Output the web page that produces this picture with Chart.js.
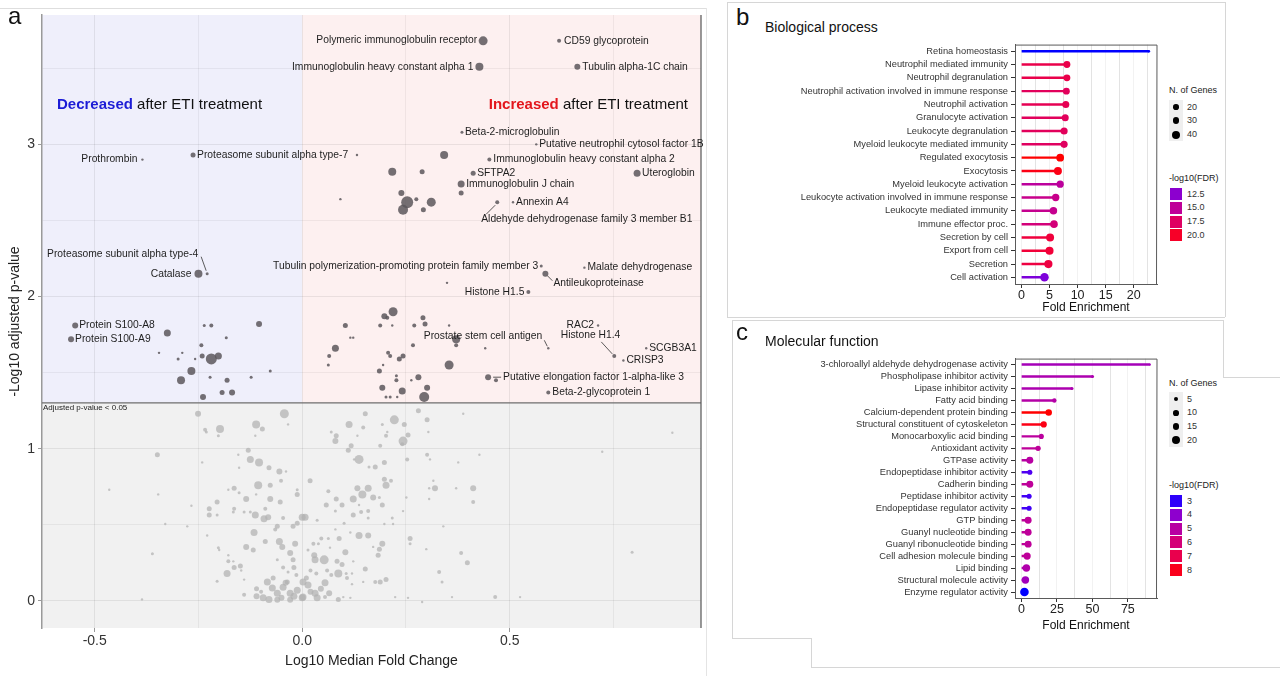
<!DOCTYPE html>
<html><head><meta charset="utf-8">
<script src="https://cdn.jsdelivr.net/npm/chart.js@4.4.1/dist/chart.umd.min.js"></script>
<style>
html,body{margin:0;padding:0;background:#fff;}
#wrap{position:relative;width:1280px;height:676px;overflow:hidden;background:#fff;font-family:"Liberation Sans",Arial,sans-serif;color:#111;}
canvas{position:absolute;}
.t{position:absolute;white-space:nowrap;}
.ln{position:absolute;background:#d6d6d6;}
</style></head><body><div id="wrap">
<canvas id="volcano" width="712" height="676" style="left:0px;top:0px"></canvas>
<canvas id="bp" width="440" height="290" style="left:727px;top:36px"></canvas>
<canvas id="mf" width="440" height="290" style="left:727px;top:350px"></canvas>
</div>
<script>
// ---------------- DATA ----------------
// Panel a: volcano plot  [log10 median fold change, -log10 adjusted p, point size]
const significanceLevel = 0.05;
const xMajorTicks = [-0.5, 0.0, 0.5];
const xMinorTicks = [-0.25, 0.25, 0.75];
const yMajorTicks = [0, 1, 2, 3];
const yMinorTicks = [0.5, 1.5, 2.5, 3.5];

const labeledProteins = [
 ["Polymeric immunoglobulin receptor",0.436,3.68,4.5],
 ["CD59 glycoprotein",0.619,3.68,2],
 ["Immunoglobulin heavy constant alpha 1",0.427,3.51,4],
 ["Tubulin alpha-1C chain",0.663,3.51,3],
 ["Beta-2-microglobulin",0.385,3.08,1.5],
 ["Putative neutrophil cytosol factor 1B",0.564,3.00,1.2],
 ["Proteasome subunit alpha type-7",-0.263,2.93,2.5],
 ["Prothrombin",-0.385,2.90,1.2],
 ["Immunoglobulin heavy constant alpha 2",0.451,2.90,2],
 ["SFTPA2",0.412,2.81,2.5],
 ["Uteroglobin",0.807,2.81,3.5],
 ["Immunoglobulin J chain",0.383,2.74,3.5],
 ["Annexin A4",0.508,2.62,1.2],
 ["Aldehyde dehydrogenase family 3 member B1",0.470,2.62,2],
 ["Proteasome subunit alpha type-4",-0.229,2.15,1.5],
 ["Catalase",-0.250,2.15,4],
 ["Tubulin polymerization-promoting protein family member 3",0.576,2.20,1.5],
 ["Antileukoproteinase",0.586,2.15,3],
 ["Malate dehydrogenase",0.680,2.19,1.2],
 ["Histone H1.5",0.545,2.03,2],
 ["Protein S100-A8",-0.547,1.81,3],
 ["Protein S100-A9",-0.557,1.72,3],
 ["Prostate stem cell antigen",0.593,1.66,1.2],
 ["RAC2",0.713,1.81,1.2],
 ["Histone H1.4",0.752,1.61,2],
 ["SCGB3A1",0.829,1.66,1.2],
 ["CRISP3",0.774,1.58,1.2],
 ["Putative elongation factor 1-alpha-like 3",0.448,1.47,3],
 ["Beta-2-glycoprotein 1",0.593,1.37,2]
];

const significantUnlabeled = [
 [0.342,2.93,4],[0.132,2.93,1.2],[0.217,2.82,4],[0.289,2.82,2.5],[0.092,2.64,1.2],[0.239,2.68,3],[0.253,2.62,6],[0.275,2.64,2],[0.311,2.62,4.5],[0.243,2.57,5],[0.292,2.57,2.5],[0.383,2.68,2.5],[0.349,2.09,1.2],
 [-0.325,1.76,3.5],[-0.236,1.81,1.5],[-0.219,1.81,2],[-0.104,1.82,3],[-0.183,1.73,1.5],[-0.243,1.68,2],[-0.345,1.63,1.2],[-0.289,1.63,1.2],[-0.299,1.59,1.5],[-0.258,1.59,1.2],[-0.241,1.61,2.5],[-0.219,1.59,5.5],[-0.202,1.61,3.5],[-0.267,1.51,4],[-0.292,1.45,4],[-0.222,1.47,1.5],[-0.181,1.45,2.5],[-0.123,1.47,1.5],[-0.077,1.51,1.5],[-0.193,1.37,2.5],[-0.169,1.37,3],[-0.239,1.34,3],
 [0.219,1.90,4.5],[0.198,1.87,3],[0.205,1.86,2],[0.104,1.81,2.5],[0.188,1.81,2],[0.217,1.81,1.2],[0.270,1.81,2],[0.291,1.86,2.5],[0.296,1.82,2.5],[0.354,1.81,1.2],[0.116,1.73,1.2],[0.123,1.73,1.2],[0.080,1.66,3.5],[0.065,1.61,2],[0.063,1.55,1.5],[0.267,1.68,2],[0.207,1.63,2],[0.212,1.61,2],[0.234,1.59,2.5],[0.243,1.61,2.5],[0.195,1.55,1.2],[0.186,1.51,2.5],[0.227,1.48,1.5],[0.227,1.45,2],[0.263,1.45,1.2],[0.280,1.47,3],[0.193,1.40,3],[0.241,1.38,3.5],[0.301,1.40,3],[0.294,1.34,5],[0.202,1.34,1.5],[0.212,1.34,1.5],[0.229,1.34,1.2],[0.371,1.72,4],[0.371,1.68,2],[0.354,1.55,4.5],[0.441,1.66,1.2],[0.467,1.45,2]
];

const nonsignificant = [
 [-0.251,1.23,3],[-0.043,1.23,4.5],[-0.034,1.16,1.2],[-0.198,1.13,4],[-0.234,1.125,2],[-0.231,1.11,1.5],[-0.202,1.085,1.5],[-0.111,1.16,4],[-0.096,1.13,2.5],[-0.113,1.085,1.2],
 [-0.349,0.96,2.5],[-0.241,0.91,1.2],[-0.154,0.96,1.2],[-0.152,0.875,1.2],[-0.130,0.99,2.5],[-0.125,0.93,3.5],[-0.104,0.91,4],[-0.080,0.875,2.5],[-0.055,0.85,3],[-0.039,0.85,1.2],
 [-0.051,0.79,2],[-0.106,0.76,4],[-0.077,0.76,2.5],[-0.012,0.70,2.5],[-0.164,0.74,2.5],[-0.178,0.73,1.2],[-0.152,0.71,1.5],[-0.347,0.70,1.2],[-0.135,0.67,3],[-0.111,0.70,1.2],
 [-0.077,0.67,3],[-0.053,0.65,2.5],[-0.089,0.605,2],[-0.205,0.65,2.5],[-0.224,0.605,2.5],[-0.224,0.565,2.5],[-0.205,0.565,1.5],[-0.164,0.605,2],[-0.166,0.585,1.5],[-0.140,0.585,1.5],
 [-0.125,0.585,1.5],[-0.113,0.565,3.5],[-0.092,0.54,3.5],[-0.082,0.55,3],[-0.046,0.545,2],[-0.267,0.625,1.2],[-0.330,0.505,1.2],[-0.277,0.49,1.2],[-0.060,0.49,2.5],[-0.065,0.47,2],
 [-0.022,0.49,2.5],[-0.116,0.45,3.5],[-0.089,0.39,2.5],[-0.055,0.39,3.5],[-0.048,0.355,3],[-0.017,0.375,3],[-0.229,0.43,1.2],[-0.200,0.335,1.2],[-0.135,0.355,3],[-0.118,0.335,2.5],
 [-0.178,0.30,1.2],[-0.178,0.26,2],[-0.166,0.26,1.2],[-0.164,0.22,2.5],[-0.149,0.23,2.5],[-0.147,0.20,1.2],[-0.181,0.18,3.5],[-0.205,0.13,1.5],[-0.140,0.14,1.2],[-0.140,0.04,2],
 [-0.084,0.125,3.5],[-0.029,0.315,3],[-0.022,0.27,2.5],[-0.046,0.22,2],[-0.060,0.27,1.5],[-0.034,0.19,1.5],[-0.036,0.125,2.5],[-0.014,0.17,2],[-0.072,0.085,3.5],[-0.094,0.02,3.5],
 [-0.080,0.01,3.5],[-0.060,0.05,3.5],[-0.046,0.09,3.5],[-0.029,0.05,3.5],[-0.012,0.07,3.5],[0.000,0.02,3.5],[-0.099,0.06,2],[-0.060,0.007,3],[-0.029,0.007,3],[-0.361,0.31,1.5],
 [-0.012,0.51,2.5],[0.000,0.55,3.5],[-0.012,0.73,1.5],[-0.465,0.73,1.2],[-0.386,0.01,1.2],[-0.202,0.35,1.5],
 [-0.020,0.03,3.5],[0.020,0.06,3],[-0.050,0.02,3],[0.045,0.08,3],[-0.040,0.12,3],[0.010,0.15,2.5],[-0.070,0.15,2.5],[0.065,0.05,3],[-0.110,0.03,3],[-0.110,0.08,2.5],[0.020,0.20,2],[-0.020,0.22,2.5],
 [0.152,1.23,2.5],[0.222,1.19,4.5],[0.193,1.16,1.5],[0.246,1.16,2.5],[0.280,1.25,2.5],[0.301,1.19,2.5],[0.113,1.16,3.5],[0.147,1.14,2],[0.070,1.11,1.5],[0.082,1.085,2.5],
 [0.080,1.05,3],[0.133,1.085,1.2],[0.205,1.11,1.2],[0.202,1.085,2],[0.255,1.09,2.5],[0.243,1.05,4.5],[0.241,1.03,2],[0.188,1.02,2],[0.118,1.02,2.5],[0.111,0.99,2.5],
 [0.304,1.11,1.2],[0.137,0.93,4.5],[0.125,0.93,1.2],[0.198,0.91,2.5],[0.253,0.93,2],[0.301,0.96,2],[0.308,0.93,1.2],[0.376,0.91,1.2],[0.161,0.88,1.5],[0.176,0.88,2.5],
 [0.019,0.79,2.5],[0.063,0.72,2],[0.082,0.67,2.5],[0.133,0.74,3],[0.145,0.70,4],[0.123,0.67,3.5],[0.159,0.74,3.5],[0.171,0.68,3],[0.186,0.68,1.5],[0.198,0.80,2.5],
 [0.202,0.76,3.5],[0.214,0.79,2],[0.193,0.63,2.5],[0.137,0.63,1.2],[0.096,0.63,2.5],[0.058,0.63,2.5],[0.080,0.59,1.5],[0.142,0.585,2],[0.159,0.59,2],[0.159,0.545,1.5],
 [0.123,0.565,2.5],[0.251,0.68,1.2],[0.306,0.67,1.2],[0.316,0.79,1.2],[0.320,0.74,3],[0.306,0.74,1.2],[0.371,0.74,1.2],[0.243,0.59,1.2],[0.217,0.545,1.5],[0.198,0.505,1.2],
 [0.219,0.505,1.2],[0.340,0.49,1.2],[0.101,0.51,1.5],[0.080,0.47,1.2],[0.036,0.53,1.5],[0.007,0.55,3.5],[0.137,0.43,3.5],[0.159,0.43,3],[0.089,0.41,2.5],[0.116,0.45,1.2],
 [0.260,0.41,2.5],[0.260,0.375,1.5],[0.193,0.375,3],[0.186,0.34,2.5],[0.183,0.30,2.5],[0.171,0.355,1.2],[0.299,0.34,1.2],[0.104,0.32,3],[0.046,0.41,2],[0.063,0.41,1.5],
 [0.027,0.375,2],[0.039,0.375,1.5],[0.014,0.335,1.5],[0.067,0.35,1.2],[0.029,0.30,3],[0.053,0.27,4.5],[0.031,0.27,3.5],[0.084,0.26,2.5],[0.096,0.24,2.5],[0.123,0.26,1.2],
 [0.034,0.18,2],[0.060,0.20,2],[0.070,0.17,2],[0.087,0.18,4],[0.106,0.18,1.5],[0.120,0.18,1.2],[0.152,0.21,2.5],[0.108,0.15,2],[0.055,0.12,3.5],[0.120,0.11,1.2],
 [0.147,0.125,1.2],[0.176,0.125,2],[0.188,0.125,2.5],[0.202,0.14,2.5],[0.330,0.19,2],[0.337,0.125,1.5],[0.002,0.125,3.5],[0.014,0.105,3.5],[0.031,0.05,3.5],[0.002,0.025,3.5],
 [0.036,0.02,3.5],[0.055,0.025,2],[0.087,0.01,2.5],[0.099,0.025,1.2],[0.116,0.02,1.2],[0.224,0.025,1.2],[0.255,0.02,1.2],[0.289,-0.007,1.2],[0.361,0.025,1.2],
 [0.892,1.105,1.2],[0.723,0.98,1.2],[0.795,0.32,1.5],[0.465,0.025,2],[0.525,0.025,1.2],[0.412,0.74,3],[0.412,0.65,2],[0.388,1.23,1.2],[0.427,0.96,1.2],[0.383,0.315,2],[0.398,0.25,2.5]
];

// Panel b: Biological process
const bpTerms = ["Retina homeostasis","Neutrophil mediated immunity","Neutrophil degranulation","Neutrophil activation involved in immune response","Neutrophil activation","Granulocyte activation","Leukocyte degranulation","Myeloid leukocyte mediated immunity","Regulated exocytosis","Exocytosis","Myeloid leukocyte activation","Leukocyte activation involved in immune response","Leukocyte mediated immunity","Immune effector proc.","Secretion by cell","Export from cell","Secretion","Cell activation"];
const bpFoldEnrichment = [22.7,8.1,8.1,8.0,7.9,7.8,7.6,7.6,6.9,6.5,6.9,6.1,5.7,5.8,5.1,5.0,4.8,4.1];
const bpGenes = [4,30,30,30,31,31,32,32,38,40,33,34,35,36,40,41,42,46];
const bpLog10FDR = [10.4,18.6,18.6,17.8,18.2,17.8,17.8,17.6,21.0,20.6,14.8,15.6,15.4,16.4,19.2,19.4,19.0,12.0];
const bpXTicks = [0,5,10,15,20];
const bpGeneBreaks = [20,30,40];
const bpFdrBreaks = [12.5,15.0,17.5,20.0];

// Panel c: Molecular function
const mfTerms = ["3-chloroallyl aldehyde dehydrogenase activity","Phospholipase inhibitor activity","Lipase inhibitor activity","Fatty acid binding","Calcium-dependent protein binding","Structural constituent of cytoskeleton","Monocarboxylic acid binding","Antioxidant activity","GTPase activity","Endopeptidase inhibitor activity","Cadherin binding","Peptidase inhibitor activity","Endopeptidase regulator activity","GTP binding","Guanyl nucleotide binding","Guanyl ribonucleotide binding","Cell adhesion molecule binding","Lipid binding","Structural molecule activity","Enzyme regulator activity"];
const mfFoldEnrichment = [90.6,50.1,35.6,23.2,19.2,15.7,14.0,11.7,5.9,5.9,5.9,5.4,5.4,4.7,4.7,4.7,4.0,3.5,2.8,2.1];
const mfGenes = [1,3,3,6,13,12,8,9,15,8,15,8,8,15,15,15,16,17,17,23];
const mfLog10FDR = [4.5,4.7,4.7,4.9,8.3,8.1,5.1,5.2,5.0,3.2,5.2,3.1,3.1,5.2,5.2,5.2,5.2,4.8,4.4,2.9];
const mfXTicks = [0,25,50,75];
const mfGeneBreaks = [5,10,15,20];
const mfFdrBreaks = [3,4,5,6,7,8];

// ---------------- HELPERS ----------------
const FONT = '"Liberation Sans", Arial, sans-serif';
Chart.defaults.font.family = FONT;
const wrap = document.getElementById('wrap');

function txt(text, x, cy, fs, opts={}) {
  const d = document.createElement('div');
  d.className = 't';
  d.style.left = x + 'px';
  d.style.top = (cy - fs/2) + 'px';
  d.style.fontSize = fs + 'px';
  d.style.lineHeight = fs + 'px';
  d.style.color = opts.color || '#111';
  if (opts.right) d.style.transform = 'translateX(-100%)';
  d.innerHTML = text;
  wrap.appendChild(d);
  return d;
}
function line(x, y, w, h, c) {
  const d = document.createElement('div');
  d.className = 'ln';
  Object.assign(d.style, {left:x+'px', top:y+'px', width:w+'px', height:h+'px'});
  if (c) d.style.background = c;
  wrap.appendChild(d);
}

// Lab colour interpolation (blue -> red), like ggplot's gradient
const WN=[0.95047,1,1.08883];
function toLin(c){c/=255;return c<=0.04045?c/12.92:Math.pow((c+0.055)/1.055,2.4);}
function fromLin(c){c=c<=0.0031308?12.92*c:1.055*Math.pow(c,1/2.4)-0.055;return Math.round(255*Math.min(1,Math.max(0,c)));}
function rgb2lab(rgb){const [r,g,b]=rgb.map(toLin);const X=(0.4124*r+0.3576*g+0.1805*b)/WN[0],Y=(0.2126*r+0.7152*g+0.0722*b)/WN[1],Z=(0.0193*r+0.1192*g+0.9505*b)/WN[2];const f=t=>t>0.008856?Math.cbrt(t):7.787*t+16/116;const fx=f(X),fy=f(Y),fz=f(Z);return [116*fy-16,500*(fx-fy),200*(fy-fz)];}
function lab2rgb([L,a,b]){const fy=(L+16)/116,fx=fy+a/500,fz=fy-b/200;const fi=t=>{const t3=t*t*t;return t3>0.008856?t3:(t-16/116)/7.787;};const X=fi(fx)*WN[0],Y=fi(fy)*WN[1],Z=fi(fz)*WN[2];return [fromLin(3.2406*X-1.5372*Y-0.4986*Z),fromLin(-0.9689*X+1.8758*Y+0.0415*Z),fromLin(0.0557*X-0.2040*Y+1.0570*Z)];}
const LAB_LO = rgb2lab([0,0,255]), LAB_HI = rgb2lab([255,0,0]);
function fdrColour(v, dom) {
  const t = Math.max(0, Math.min(1, (v - dom[0]) / (dom[1] - dom[0])));
  const c = lab2rgb(LAB_LO.map((l,i)=>l + (LAB_HI[i]-l)*t));
  return `rgb(${c[0]},${c[1]},${c[2]})`;
}

// ---------------- PANEL A ----------------
const yThreshold = -Math.log10(significanceLevel);
const labelLayout = {
 "Polymeric immunoglobulin receptor": {dx:-6, dy:-1, align:'right'},
 "CD59 glycoprotein": {dx:5},
 "Immunoglobulin heavy constant alpha 1": {dx:-6, align:'right'},
 "Tubulin alpha-1C chain": {dx:5},
 "Beta-2-microglobulin": {dx:3},
 "Putative neutrophil cytosol factor 1B": {dx:3},
 "Proteasome subunit alpha type-7": {dx:4},
 "Prothrombin": {dx:-5, align:'right'},
 "Immunoglobulin heavy constant alpha 2": {dx:4},
 "SFTPA2": {dx:4},
 "Uteroglobin": {dx:5},
 "Immunoglobulin J chain": {dx:5},
 "Annexin A4": {dx:3},
 "Aldehyde dehydrogenase family 3 member B1": {dx:-16, dy:17, leader:[-2,3,-11,12]},
 "Proteasome subunit alpha type-4": {dx:-9, dy:-20, align:'right', leader:[-6,-17,-1,-3]},
 "Catalase": {dx:-7, align:'right'},
 "Tubulin polymerization-promoting protein family member 3": {dx:-3, align:'right'},
 "Antileukoproteinase": {dx:8, dy:9, leader:[2,2,7,7]},
 "Malate dehydrogenase": {dx:3},
 "Histone H1.5": {dx:-4, align:'right'},
 "Protein S100-A8": {dx:4},
 "Protein S100-A9": {dx:4},
 "Prostate stem cell antigen": {dx:-6, dy:-12, align:'right', leader:[-4,-8,-1,-2]},
 "RAC2": {dx:-4, align:'right'},
 "Histone H1.4": {dx:6, dy:-21, align:'right', leader:[-13,-14,-2,-2]},
 "SCGB3A1": {dx:3},
 "CRISP3": {dx:3},
 "Putative elongation factor 1-alpha-like 3": {dx:15, leader:[5,0,13,0]},
 "Beta-2-glycoprotein 1": {dx:4}
};

const volcanoDecor = {
  id: 'volcanoDecor',
  beforeDraw(chart) {
    const {ctx, chartArea:{left,right,top,bottom}, scales:{x,y}} = chart;
    const x0 = x.getPixelForValue(0), yT = y.getPixelForValue(yThreshold);
    ctx.save();
    ctx.fillStyle = '#efeffb'; ctx.fillRect(left, top, x0-left, yT-top);
    ctx.fillStyle = '#fdf0f0'; ctx.fillRect(x0, top, right-x0, yT-top);
    ctx.fillStyle = '#f1f1f1'; ctx.fillRect(left, yT, right-left, bottom-yT);
    ctx.restore();
  },
  afterDatasetsDraw(chart) {
    const {ctx, chartArea:{left,right,top,bottom}, scales:{x,y}} = chart;
    const yT = y.getPixelForValue(yThreshold);
    ctx.save();
    ctx.strokeStyle = '#6e6e6e'; ctx.lineWidth = 1.3;
    ctx.beginPath(); ctx.moveTo(left, yT); ctx.lineTo(right, yT); ctx.stroke();
    ctx.strokeStyle = '#555'; ctx.lineWidth = 1.2;
    ctx.beginPath(); ctx.moveTo(right, top); ctx.lineTo(right, bottom); ctx.stroke();
    ctx.fillStyle = '#222'; ctx.font = '8px ' + FONT; ctx.textBaseline = 'middle'; ctx.textAlign = 'left';
    ctx.fillText('Adjusted p-value < 0.05', left + 1, yT + 5);
    ctx.font = '10.3px ' + FONT; ctx.fillStyle = '#1e1e1e';
    ctx.strokeStyle = '#333'; ctx.lineWidth = 0.8;
    labeledProteins.forEach(p => {
      const L = labelLayout[p[0]] || {dx:4};
      const px = x.getPixelForValue(p[1]), py = y.getPixelForValue(p[2]);
      ctx.textAlign = L.align || 'left';
      ctx.fillText(p[0], px + L.dx, py + (L.dy || 0));
      if (L.leader) {
        ctx.beginPath(); ctx.moveTo(px + L.leader[0], py + L.leader[1]); ctx.lineTo(px + L.leader[2], py + L.leader[3]); ctx.stroke();
      }
    });
    ctx.restore();
  }
};

const toBubble = arr => arr.map(p => ({x:p[0], y:p[1], r:p[2]}));
new Chart(document.getElementById('volcano'), {
  type: 'bubble',
  data: { datasets: [
    { label:'Not significant', data: toBubble(nonsignificant), backgroundColor:'rgba(178,178,178,0.72)', borderWidth:0 },
    { label:'Significant', data: toBubble(significantUnlabeled.concat(labeledProteins.map(p=>[p[1],p[2],p[3]]))), backgroundColor:'rgba(92,87,92,0.85)', borderWidth:0 }
  ]},
  options: {
    responsive:false, animation:false, events:[],
    layout:{padding:{left:0,right:11,top:15,bottom:0}},
    plugins:{legend:{display:false}, tooltip:{enabled:false}},
    scales: {
      x: { type:'linear', min:-0.627, max:0.961,
        afterBuildTicks: s => { s.ticks = xMajorTicks.concat(xMinorTicks).sort((a,b)=>a-b).map(v=>({value:v})); },
        afterFit: s => { s.height = 48; },
        ticks:{ callback: v => xMajorTicks.includes(v) ? v.toFixed(1) : '', font:{size:14}, color:'#333', padding:1, maxRotation:0, autoSkip:false },
        grid:{ color: c => xMajorTicks.includes(c.tick && c.tick.value) ? 'rgba(0,0,0,0.075)' : 'rgba(0,0,0,0.05)', tickLength:4, tickColor: c => xMajorTicks.includes(c.tick && c.tick.value) ? '#999' : 'rgba(0,0,0,0)' },
        border:{ display:false },
        title:{ display:true, text:'Log10 Median Fold Change', font:{size:14}, color:'#222', padding:{top:0,bottom:6} }
      },
      y: { type:'linear', min:-0.178, max:3.85,
        afterBuildTicks: s => { s.ticks = yMajorTicks.concat(yMinorTicks).sort((a,b)=>a-b).map(v=>({value:v})); },
        afterFit: s => { s.width = 42; },
        ticks:{ callback: v => yMajorTicks.includes(v) ? String(v) : '', font:{size:14}, color:'#333', padding:3, autoSkip:false },
        grid:{ color: c => yMajorTicks.includes(c.tick && c.tick.value) ? 'rgba(0,0,0,0.075)' : 'rgba(0,0,0,0.05)', tickLength:4, tickColor: c => yMajorTicks.includes(c.tick && c.tick.value) ? '#999' : 'rgba(0,0,0,0)' },
        border:{ display:true, color:'#9a9a9a', width:1.5 },
        title:{ display:true, text:'-Log10 adjusted p-value', font:{size:14}, color:'#222', padding:{top:7,bottom:0} }
      }
    }
  },
  plugins:[volcanoDecor]
});

// ---------------- PANELS B & C ----------------
const frame = {
  id:'frame',
  afterDraw(chart) {
    const {ctx, chartArea:{left,right,top,bottom}} = chart;
    ctx.save(); ctx.strokeStyle = '#5a5a5a'; ctx.lineWidth = 1;
    ctx.beginPath(); ctx.moveTo(left, top+0.5); ctx.lineTo(right, top+0.5); ctx.lineTo(right-0.5, bottom); ctx.stroke();
    ctx.restore();
  }
};

function lollipop(id, terms, fe, genes, fdr, sizeK, xMin, xMax, majors, minorStep, tickPad, titlePadBottom) {
  const dom = [Math.min(...fdr), Math.max(...fdr)];
  const colours = fdr.map(v => fdrColour(v, dom));
  const radii = genes.map(n => sizeK * Math.sqrt(n));
  const gridVals = [];
  for (let v = 0; v < xMax; v += minorStep) gridVals.push(+v.toFixed(4));
  new Chart(document.getElementById(id), {
    type:'bar',
    data:{ labels: terms, datasets:[
      { type:'bar', data: fe, backgroundColor: colours, barThickness:1.8, borderWidth:0, order:2 },
      { type:'scatter', data: fe.map((v,i)=>({x:v, y:terms[i]})), pointRadius: radii, pointBackgroundColor: colours, pointBorderWidth:0, order:1 }
    ]},
    options:{
      indexAxis:'y', responsive:false, animation:false, events:[],
      layout:{padding:{left:0,right:10,top:7,bottom:0}},
      plugins:{legend:{display:false}, tooltip:{enabled:false}},
      scales:{
        x:{ type:'linear', min:xMin, max:xMax,
          afterBuildTicks: s => { s.ticks = gridVals.map(v=>({value:v})); },
          afterFit: s => { s.height = 42; },
          ticks:{ callback: v => majors.includes(v) ? String(v) : '', font:{size:12.5}, color:'#222', padding:tickPad, maxRotation:0, autoSkip:false },
          grid:{ color: c => majors.includes(c.tick && c.tick.value) ? 'rgba(0,0,0,0.05)' : 'rgba(0,0,0,0.11)', tickLength:4, tickColor: c => majors.includes(c.tick && c.tick.value) ? '#333' : 'rgba(0,0,0,0)' },
          border:{ color:'#5a5a5a', width:1 },
          title:{ display:true, text:'Fold Enrichment', font:{size:12}, color:'#111', padding:{top:0,bottom:titlePadBottom} }
        },
        y:{ type:'category', offset:true,
          afterFit: s => { s.width = 288; },
          ticks:{ autoSkip:false, font:{size:9.3}, color:'#333', padding:3 },
          grid:{ display:true, drawOnChartArea:false, offset:false, tickLength:4, tickColor:'#333' },
          border:{ color:'#5a5a5a', width:1 }
        }
      }
    },
    plugins:[frame]
  });
  return {dom, sizeK};
}

const bpInfo = lollipop('bp', bpTerms, bpFoldEnrichment, bpGenes, bpLog10FDR, 0.63, -1.15, 24.15, bpXTicks, 2.5, 0, 10.8);
const mfInfo = lollipop('mf', mfTerms, mfFoldEnrichment, mfGenes, mfLog10FDR, 0.9, -4.55, 95.55, mfXTicks, 12.5, 0, 6.8);

// legends
function legend(x, gTitleY, gY0, geneBreaks, fdrTitleY, fY0, fdrBreaks, info, step, fdrFmt) {
  txt('N. of Genes', x, gTitleY, 9, {color:'#222'});
  const bg = document.createElement('div');
  Object.assign(bg.style, {position:'absolute', left:(x)+'px', top:(gY0-7)+'px', width:'14px', height:(step*geneBreaks.length)+'px', background:'#efefef'});
  wrap.appendChild(bg);
  geneBreaks.forEach((g,i) => {
    const cy = gY0 + i*step; const r = info.sizeK*Math.sqrt(g);
    const d = document.createElement('div');
    Object.assign(d.style, {position:'absolute', left:(x+7-r)+'px', top:(cy-r)+'px', width:(2*r)+'px', height:(2*r)+'px', borderRadius:'50%', background:'#000'});
    wrap.appendChild(d);
    txt(String(g), x+18, cy, 9, {color:'#333'});
  });
  txt('-log10(FDR)', x, fdrTitleY, 9, {color:'#222'});
  fdrBreaks.forEach((f,i) => {
    const cy = fY0 + i*step;
    const d = document.createElement('div');
    Object.assign(d.style, {position:'absolute', left:(x+1)+'px', top:(cy-6)+'px', width:'12px', height:'12px', background:fdrColour(f, info.dom)});
    wrap.appendChild(d);
    txt(fdrFmt(f), x+18, cy, 9, {color:'#333'});
  });
}
legend(1169, 90, 107, bpGeneBreaks, 178, 194, bpFdrBreaks, bpInfo, 13.8, f => f.toFixed(1));
legend(1169, 383, 399, mfGeneBreaks, 485, 501, mfFdrBreaks, mfInfo, 13.8, f => String(f));

// ---------------- TEXT & FRAMES ----------------
txt('a', 8, 16, 24);
txt('b', 736, 17, 24);
txt('c', 736, 332, 24);
txt('Biological process', 765, 27, 14);
txt('Molecular function', 765, 341, 14);
txt('<b style="color:#1c1cd6">Decreased</b> after ETI treatment', 57, 103, 15);
txt('<b style="color:#e3161c">Increased</b> after ETI treatment', 688, 103, 15, {right:true});

// decorative panel borders
line(0, 8, 706, 1, '#dedede');
line(706, 8, 1, 668, '#e4e4e4');
line(727, 2, 498, 1); line(727, 2, 1, 315); line(1225, 2, 1, 315); line(727, 317, 498, 1);
line(732, 320, 491, 1); line(1223, 320, 1, 57); line(1223, 377, 57, 1);
line(732, 320, 1, 318); line(732, 638, 79, 1); line(811, 638, 1, 29); line(811, 667, 469, 1);
</script></body></html>
